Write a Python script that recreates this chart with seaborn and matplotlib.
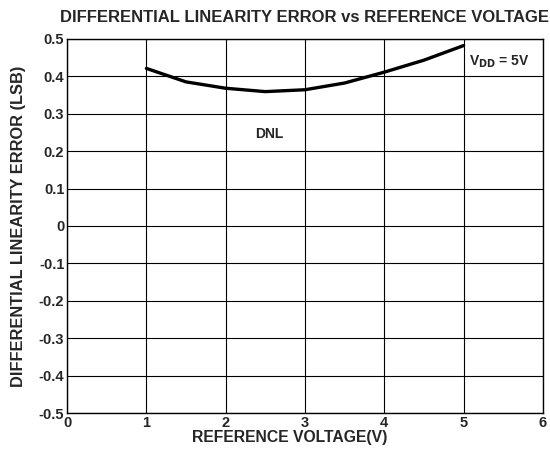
import numpy as np
import pandas as pd
import matplotlib
matplotlib.use("Agg")
import matplotlib.pyplot as plt
import seaborn as sns

# Données
ref_voltage = [1.0, 1.5, 2.0, 2.5, 3.0, 3.5, 4.0, 4.5, 5.0]
dnl_lsb = [0.421, 0.385, 0.368, 0.359, 0.364, 0.382, 0.411, 0.443, 0.482]
x_ticks = [0, 1, 2, 3, 4, 5, 6]
y_ticks = [-0.5, -0.4, -0.3, -0.2, -0.1, 0, 0.1, 0.2, 0.3, 0.4, 0.5]
y_tick_labels = ["-0.5", "-0.4", "-0.3", "-0.2", "-0.1", "0", "0.1", "0.2", "0.3", "0.4", "0.5"]

df = pd.DataFrame({"vref": ref_voltage, "dnl": dnl_lsb})

sns.set_style("white")
plt.rcParams["font.family"] = ["Liberation Sans", "DejaVu Sans"]
plt.rcParams["font.weight"] = "bold"

fig = plt.figure(figsize=(5.5, 4.57), dpi=100)
ax = fig.add_axes([0.122, 0.096, 0.865, 0.819])

sns.lineplot(data=df, x="vref", y="dnl", ax=ax, color="black", linewidth=2.4)

ax.set_xlim(0, 6)
ax.set_ylim(-0.5, 0.5)
ax.set_xticks(x_ticks)
ax.set_yticks(y_ticks)
ax.set_yticklabels(y_tick_labels)
ax.grid(True, color="black", linewidth=0.8)
ax.tick_params(direction="in", length=2, labelsize=10.5, pad=2)
for lab in ax.get_xticklabels() + ax.get_yticklabels():
    lab.set_fontweight("bold")
for sp in ax.spines.values():
    sp.set_color("black")
    sp.set_linewidth(1.0)

ax.set_xlabel("REFERENCE VOLTAGE(V)", fontsize=11.3, fontweight="bold", labelpad=0)
ax.xaxis.set_label_coords(0.468, -0.045)
ax.set_ylabel("DIFFERENTIAL LINEARITY ERROR (LSB)", fontsize=11.8, fontweight="bold", labelpad=9)
ax.set_title("DIFFERENTIAL LINEARITY ERROR vs REFERENCE VOLTAGE", fontsize=12, fontweight="bold", pad=12)

ax.text(2.55, 0.245, "DNL", fontsize=10, fontweight="bold", ha="center", va="center")
ax.text(5.07, 0.44, r"V$_{\mathbf{DD}}$ = 5V", fontsize=10, fontweight="bold", ha="left", va="center")

fig.savefig("out.png", dpi=100)
